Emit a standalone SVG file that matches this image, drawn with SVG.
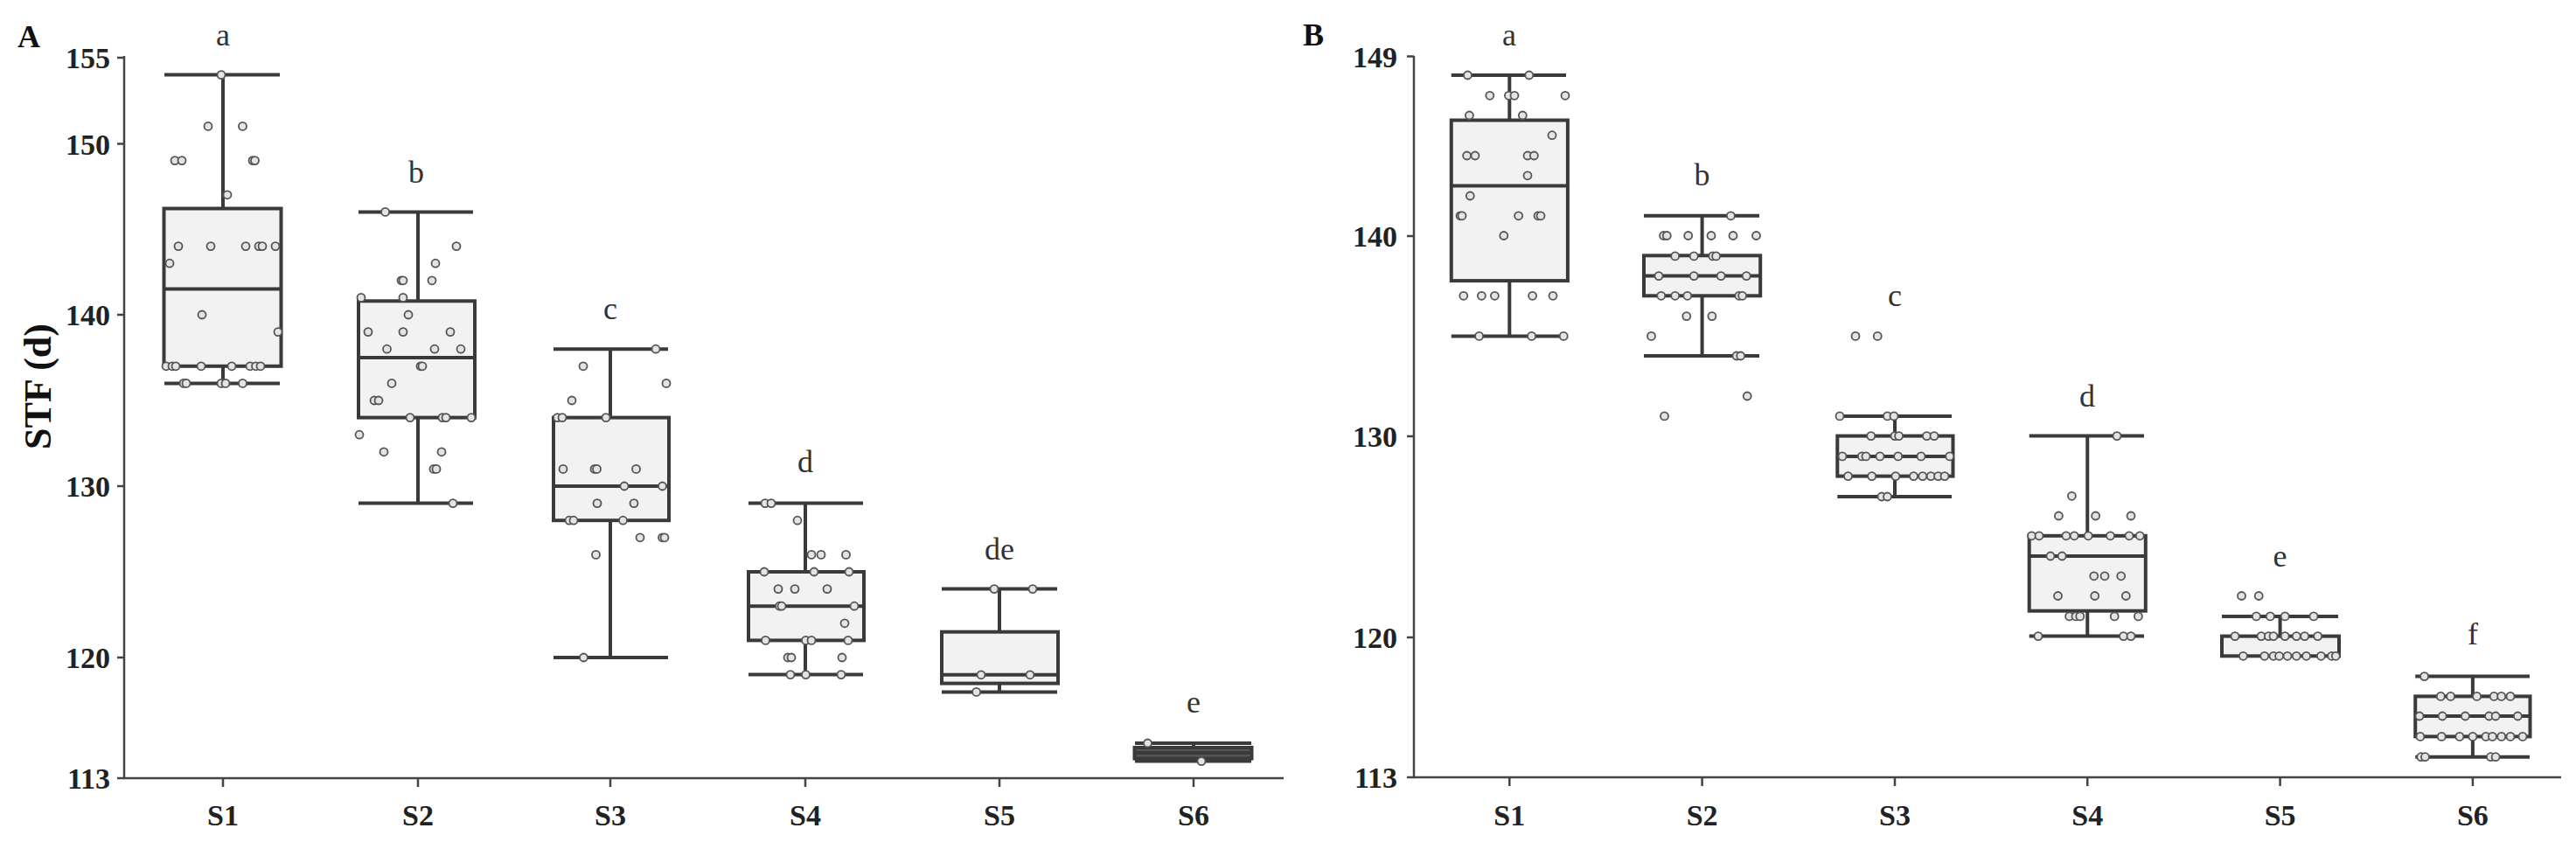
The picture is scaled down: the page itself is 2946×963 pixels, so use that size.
<svg xmlns="http://www.w3.org/2000/svg" width="2946" height="963" viewBox="0 0 2946 963">
<style>
.ax{stroke:#444;stroke-width:2.5;fill:none}
.bx{fill:#f2f2f2;stroke:#3a3a3a;stroke-width:4}
.wl{stroke:#3a3a3a;stroke-width:4;fill:none}
.pt circle{fill:#e4e4e4;stroke:#555;stroke-width:1.8;r:4.5}
.tk{font-family:"Liberation Serif",serif;font-weight:bold;font-size:34px;fill:#222}
.sl{font-family:"Liberation Serif",serif;font-weight:bold;font-size:34px;fill:#222;text-anchor:middle}
.lt{font-family:"Liberation Serif",serif;font-size:36px;fill:#333;text-anchor:middle}
.pl{font-family:"Liberation Serif",serif;font-weight:bold;font-size:36px;fill:#111}
</style>
<g id="panelA">
<text class="pl" x="20" y="54">A</text>
<text class="pl" transform="translate(58,442) rotate(-90)" text-anchor="middle" style="font-size:44px">STF (d)</text>
<g id="axesA" class="ax">
<path d="M142,64V890H1468"/>
<path d="M134,66H142M134,164.6H142M134,360H142M134,556H142M134,752H142M134,890H142"/>
<path d="M255,890v10M478,890v10M698,890v10M921,890v10M1143,890v10M1365,890v10"/>
</g>
<g text-anchor="end" class="tk">
<text x="126" y="78">155</text><text x="126" y="177">150</text><text x="126" y="372">140</text><text x="126" y="568">130</text><text x="126" y="764">120</text><text x="126" y="902">113</text>
</g>
<g class="sl"><text x="255" y="944">S1</text><text x="478" y="944">S2</text><text x="698" y="944">S3</text><text x="921" y="944">S4</text><text x="1143" y="944">S5</text><text x="1365" y="944">S6</text></g>
<g id="A-S1">
<path class="wl" d="M255,85.6V438.4M188,85.6H320M188,438.4H320"/>
<rect class="bx" x="187.5" y="238.5" width="134" height="180.3"/>
<path class="wl" d="M187.5,330.6H321.5"/>
<g class="pt"><circle cx="253" cy="85.6"/><circle cx="238" cy="144.4"/><circle cx="277.5" cy="144.4"/><circle cx="200" cy="183.6"/><circle cx="208" cy="183.6"/><circle cx="289" cy="183.6"/><circle cx="291.5" cy="183.6"/><circle cx="260" cy="222.8"/><circle cx="204" cy="281.6"/><circle cx="241" cy="281.6"/><circle cx="281" cy="281.6"/><circle cx="296" cy="281.6"/><circle cx="300" cy="281.6"/><circle cx="315" cy="281.6"/><circle cx="194" cy="301.2"/><circle cx="231" cy="360"/><circle cx="318" cy="379.6"/><circle cx="190" cy="418.8"/><circle cx="197" cy="418.8"/><circle cx="201" cy="418.8"/><circle cx="230" cy="418.8"/><circle cx="265" cy="418.8"/><circle cx="286" cy="418.8"/><circle cx="292.5" cy="418.8"/><circle cx="298" cy="418.8"/><circle cx="210" cy="438.4"/><circle cx="213" cy="438.4"/><circle cx="253" cy="438.4"/><circle cx="258" cy="438.4"/><circle cx="277.5" cy="438.4"/></g>
<text class="lt" x="255" y="52">a</text>
</g>
<g id="A-S2">
<path class="wl" d="M478,242.4V575.6M410,242.4H541M410,575.6H541"/>
<rect class="bx" x="410" y="344.3" width="133" height="133.3"/>
<path class="wl" d="M410,409H543"/>
<g class="pt"><circle cx="440.6" cy="242.4"/><circle cx="522" cy="281.6"/><circle cx="498" cy="301.2"/><circle cx="459" cy="320.8"/><circle cx="461" cy="320.8"/><circle cx="494" cy="320.8"/><circle cx="413" cy="340.4"/><circle cx="461" cy="340.4"/><circle cx="467" cy="360"/><circle cx="421" cy="379.6"/><circle cx="461" cy="379.6"/><circle cx="515" cy="379.6"/><circle cx="442.5" cy="399.2"/><circle cx="497" cy="399.2"/><circle cx="527" cy="399.2"/><circle cx="481" cy="418.8"/><circle cx="483" cy="418.8"/><circle cx="448" cy="438.4"/><circle cx="428" cy="458"/><circle cx="433" cy="458"/><circle cx="469" cy="477.6"/><circle cx="506" cy="477.6"/><circle cx="510" cy="477.6"/><circle cx="539" cy="477.6"/><circle cx="411" cy="497.2"/><circle cx="439" cy="516.8"/><circle cx="505" cy="516.8"/><circle cx="496" cy="536.4"/><circle cx="499" cy="536.4"/><circle cx="518" cy="575.6"/></g>
<text class="lt" x="476" y="209">b</text>
</g>
<g id="A-S3">
<path class="wl" d="M698,399.2V752M633,399.2H764M633,752H764"/>
<rect class="bx" x="633" y="477.6" width="132" height="117.6"/>
<path class="wl" d="M633,556H765"/>
<g class="pt"><circle cx="750" cy="399.2"/><circle cx="667" cy="418.8"/><circle cx="762" cy="438.4"/><circle cx="654" cy="458"/><circle cx="637.5" cy="477.6"/><circle cx="643" cy="477.6"/><circle cx="693" cy="477.6"/><circle cx="644" cy="536.4"/><circle cx="680" cy="536.4"/><circle cx="682.5" cy="536.4"/><circle cx="727.5" cy="536.4"/><circle cx="714" cy="556"/><circle cx="757.5" cy="556"/><circle cx="683" cy="575.6"/><circle cx="725" cy="575.6"/><circle cx="651" cy="595.2"/><circle cx="656" cy="595.2"/><circle cx="712.5" cy="595.2"/><circle cx="732" cy="614.8"/><circle cx="757.5" cy="614.8"/><circle cx="760" cy="614.8"/><circle cx="681.5" cy="634.4"/><circle cx="667.5" cy="752"/></g>
<text class="lt" x="698" y="365">c</text>
</g>
<g id="A-S4">
<path class="wl" d="M921,575.6V771.6M856,575.6H987M856,771.6H987"/>
<rect class="bx" x="856" y="654" width="132" height="78.4"/>
<path class="wl" d="M856,693.2H988"/>
<g class="pt"><circle cx="875" cy="575.6"/><circle cx="882" cy="575.6"/><circle cx="912" cy="595.2"/><circle cx="928" cy="634.4"/><circle cx="939" cy="634.4"/><circle cx="967.5" cy="634.4"/><circle cx="874" cy="654"/><circle cx="931" cy="654"/><circle cx="971" cy="654"/><circle cx="890" cy="673.6"/><circle cx="909" cy="673.6"/><circle cx="946" cy="673.6"/><circle cx="891.5" cy="693.2"/><circle cx="894" cy="693.2"/><circle cx="977" cy="693.2"/><circle cx="966" cy="712.8"/><circle cx="875.5" cy="732.4"/><circle cx="921.5" cy="732.4"/><circle cx="928" cy="732.4"/><circle cx="970" cy="732.4"/><circle cx="901" cy="752"/><circle cx="905" cy="752"/><circle cx="963" cy="752"/><circle cx="904" cy="771.6"/><circle cx="921.5" cy="771.6"/><circle cx="962" cy="771.6"/></g>
<text class="lt" x="921" y="540">d</text>
</g>
<g id="A-S5">
<path class="wl" d="M1143,673.6V791.4M1077,673.6H1209M1077,791.4H1209"/>
<rect class="bx" x="1077" y="722.7" width="133" height="58.9"/>
<path class="wl" d="M1077,771.8H1210"/>
<g class="pt"><circle cx="1137" cy="673.6"/><circle cx="1181" cy="673.6"/><circle cx="1122" cy="771.8"/><circle cx="1178" cy="771.8"/><circle cx="1116.6" cy="791.4"/></g>
<text class="lt" x="1143" y="640">de</text>
</g>
<g id="A-S6">
<path class="wl" d="M1365,850V870.6M1298,850H1431M1298,870.6H1431"/>
<rect class="bx" x="1297.5" y="855" width="134" height="12.6" style="fill:#555"/>
<path class="wl" d="M1297.5,861H1431.5"/>
<g class="pt"><circle cx="1312.5" cy="850"/><circle cx="1374" cy="870.6"/></g>
<text class="lt" x="1365" y="815">e</text>
</g>
</g>
<g id="panelB" transform="translate(1476,0)">
<text class="pl" x="14" y="52">B</text>
<g id="axesB" class="ax">
<path d="M141,64V889H1453"/>
<path d="M133,64.5H141M133,270H141M133,499H141M133,729H141M133,889H141"/>
<path d="M250.3,889v10M470.6,889v10M691,889v10M911.25,889v10M1131.6,889v10M1351.9,889v10"/>
</g>
<g text-anchor="end" class="tk">
<text x="122" y="77">149</text><text x="122" y="282">140</text><text x="122" y="511">130</text><text x="122" y="741">120</text><text x="122" y="901">113</text>
</g>
<g class="sl"><text x="250.3" y="944">S1</text><text x="470.6" y="944">S2</text><text x="691" y="944">S3</text><text x="911.25" y="944">S4</text><text x="1131.6" y="944">S5</text><text x="1351.9" y="944">S6</text></g>
<g id="B-S1">
<path class="wl" d="M250.3,86V384.4M183.75,86H315M183.75,384.4H315"/>
<rect class="bx" x="183.75" y="137.5" width="133.15" height="183.6"/>
<path class="wl" d="M183.75,212.4H316.9"/>
<g class="pt"><circle cx="202.5" cy="86"/><circle cx="272.8" cy="86"/><circle cx="227.8" cy="109.3"/><circle cx="249.4" cy="109.3"/><circle cx="256" cy="109.3"/><circle cx="314" cy="109.3"/><circle cx="204.4" cy="132"/><circle cx="265.3" cy="132"/><circle cx="299" cy="154.7"/><circle cx="201.6" cy="178"/><circle cx="211" cy="178"/><circle cx="271" cy="178"/><circle cx="278.4" cy="178"/><circle cx="271" cy="200.8"/><circle cx="205.3" cy="224"/><circle cx="194" cy="246.8"/><circle cx="196" cy="246.8"/><circle cx="260.6" cy="246.8"/><circle cx="283" cy="246.8"/><circle cx="286" cy="246.8"/><circle cx="243.8" cy="269.5"/><circle cx="197.8" cy="338.3"/><circle cx="218.4" cy="338.3"/><circle cx="233.4" cy="338.3"/><circle cx="276.6" cy="338.3"/><circle cx="300" cy="338.3"/><circle cx="215.6" cy="384.4"/><circle cx="275.6" cy="384.4"/><circle cx="312.2" cy="384.4"/></g>
<text class="lt" x="250" y="52">a</text>
</g>
<g id="B-S2">
<path class="wl" d="M470.6,246.8V407M404,246.8H536M404,407H536"/>
<rect class="bx" x="404" y="292.3" width="133.2" height="46"/>
<path class="wl" d="M404,315.6H537.2"/>
<g class="pt"><circle cx="426.6" cy="269.5"/><circle cx="430.3" cy="269.5"/><circle cx="454.7" cy="269.5"/><circle cx="481" cy="269.5"/><circle cx="506" cy="269.5"/><circle cx="532.5" cy="269.5"/><circle cx="503.4" cy="246.8"/><circle cx="439.7" cy="292.9"/><circle cx="461.25" cy="292.9"/><circle cx="482.8" cy="292.9"/><circle cx="486.6" cy="292.9"/><circle cx="421" cy="315.6"/><circle cx="461.25" cy="315.6"/><circle cx="492.2" cy="315.6"/><circle cx="521.25" cy="315.6"/><circle cx="423.75" cy="338.3"/><circle cx="439.7" cy="338.3"/><circle cx="453.75" cy="338.3"/><circle cx="512.8" cy="338.3"/><circle cx="516.6" cy="338.3"/><circle cx="452.8" cy="361.6"/><circle cx="481.9" cy="361.6"/><circle cx="412.5" cy="384.4"/><circle cx="510" cy="407"/><circle cx="514.7" cy="407"/><circle cx="522.2" cy="453"/><circle cx="427.5" cy="475.9"/></g>
<text class="lt" x="470.6" y="212">b</text>
</g>
<g id="B-S3">
<path class="wl" d="M691,475.9V568M625.3,475.9H756M625.3,568H756"/>
<rect class="bx" x="625.3" y="498.6" width="132.2" height="46"/>
<path class="wl" d="M625.3,521.9H757.5"/>
<g class="pt"><circle cx="646" cy="384.4"/><circle cx="671.25" cy="384.4"/><circle cx="628" cy="475.9"/><circle cx="682.5" cy="475.9"/><circle cx="690" cy="475.9"/><circle cx="663.75" cy="498.6"/><circle cx="691" cy="498.6"/><circle cx="695.6" cy="498.6"/><circle cx="727.5" cy="498.6"/><circle cx="736" cy="498.6"/><circle cx="631" cy="521.9"/><circle cx="653.4" cy="521.9"/><circle cx="658" cy="521.9"/><circle cx="674" cy="521.9"/><circle cx="694.7" cy="521.9"/><circle cx="721" cy="521.9"/><circle cx="753.75" cy="521.9"/><circle cx="637.5" cy="544.6"/><circle cx="664.7" cy="544.6"/><circle cx="691.9" cy="544.6"/><circle cx="712.5" cy="544.6"/><circle cx="722.8" cy="544.6"/><circle cx="732.2" cy="544.6"/><circle cx="740.6" cy="544.6"/><circle cx="748" cy="544.6"/><circle cx="676" cy="568"/><circle cx="682.5" cy="568"/></g>
<text class="lt" x="691" y="350">c</text>
</g>
<g id="B-S4">
<path class="wl" d="M911.25,498.6V727.6M844.7,498.6H976M844.7,727.6H976"/>
<rect class="bx" x="844.7" y="612.8" width="133.1" height="85.9"/>
<path class="wl" d="M844.7,636H977.8"/>
<g class="pt"><circle cx="945" cy="498.6"/><circle cx="893.4" cy="567.3"/><circle cx="878.4" cy="590"/><circle cx="920.6" cy="590"/><circle cx="961" cy="590"/><circle cx="847.5" cy="612.8"/><circle cx="856" cy="612.8"/><circle cx="886.9" cy="612.8"/><circle cx="896.25" cy="612.8"/><circle cx="912.2" cy="612.8"/><circle cx="937.5" cy="612.8"/><circle cx="959" cy="612.8"/><circle cx="971.25" cy="612.8"/><circle cx="869" cy="636"/><circle cx="882.2" cy="636"/><circle cx="918.75" cy="658.8"/><circle cx="931" cy="658.8"/><circle cx="949.7" cy="658.8"/><circle cx="877.5" cy="681.5"/><circle cx="919.7" cy="681.5"/><circle cx="955.3" cy="681.5"/><circle cx="890.6" cy="704.9"/><circle cx="898" cy="704.9"/><circle cx="902.8" cy="704.9"/><circle cx="942.2" cy="704.9"/><circle cx="969.4" cy="704.9"/><circle cx="855" cy="727.6"/><circle cx="952.5" cy="727.6"/><circle cx="961" cy="727.6"/></g>
<text class="lt" x="911" y="465">d</text>
</g>
<g id="B-S5">
<path class="wl" d="M1131.6,704.9V727.6M1065,704.9H1198"/>
<rect class="bx" x="1065" y="727.6" width="134" height="22.7"/>
<g class="pt"><circle cx="1087.5" cy="681.5"/><circle cx="1107.2" cy="681.5"/><circle cx="1104.4" cy="704.9"/><circle cx="1120.3" cy="704.9"/><circle cx="1137.2" cy="704.9"/><circle cx="1170" cy="704.9"/><circle cx="1080" cy="727.6"/><circle cx="1110" cy="727.6"/><circle cx="1118.4" cy="727.6"/><circle cx="1124" cy="727.6"/><circle cx="1137.2" cy="727.6"/><circle cx="1150.3" cy="727.6"/><circle cx="1159.7" cy="727.6"/><circle cx="1174.7" cy="727.6"/><circle cx="1089.4" cy="750.3"/><circle cx="1113.75" cy="750.3"/><circle cx="1124" cy="750.3"/><circle cx="1130.6" cy="750.3"/><circle cx="1140" cy="750.3"/><circle cx="1150.3" cy="750.3"/><circle cx="1161.6" cy="750.3"/><circle cx="1178.4" cy="750.3"/><circle cx="1190.6" cy="750.3"/><circle cx="1195.3" cy="750.3"/></g>
<text class="lt" x="1131.6" y="648">e</text>
</g>
<g id="B-S6">
<path class="wl" d="M1351.9,773.6V865.7M1286.25,773.6H1417M1286.25,865.7H1417"/>
<rect class="bx" x="1286.25" y="796.4" width="131.25" height="46"/>
<path class="wl" d="M1286.25,819H1417.5"/>
<g class="pt"><circle cx="1296.6" cy="773.6"/><circle cx="1315.3" cy="796.4"/><circle cx="1326.6" cy="796.4"/><circle cx="1356.6" cy="796.4"/><circle cx="1376.25" cy="796.4"/><circle cx="1384.7" cy="796.4"/><circle cx="1395" cy="796.4"/><circle cx="1291" cy="819"/><circle cx="1317.2" cy="819"/><circle cx="1343.4" cy="819"/><circle cx="1370.6" cy="819"/><circle cx="1378.1" cy="819"/><circle cx="1403.4" cy="819"/><circle cx="1291.9" cy="842.4"/><circle cx="1316.25" cy="842.4"/><circle cx="1336.9" cy="842.4"/><circle cx="1351.9" cy="842.4"/><circle cx="1366.9" cy="842.4"/><circle cx="1374.4" cy="842.4"/><circle cx="1384.7" cy="842.4"/><circle cx="1395" cy="842.4"/><circle cx="1409" cy="842.4"/><circle cx="1292.8" cy="865.7"/><circle cx="1297.5" cy="865.7"/><circle cx="1372.5" cy="865.7"/><circle cx="1378.1" cy="865.7"/></g>
<text class="lt" x="1352" y="737">f</text>
</g>
</g>
</svg>
